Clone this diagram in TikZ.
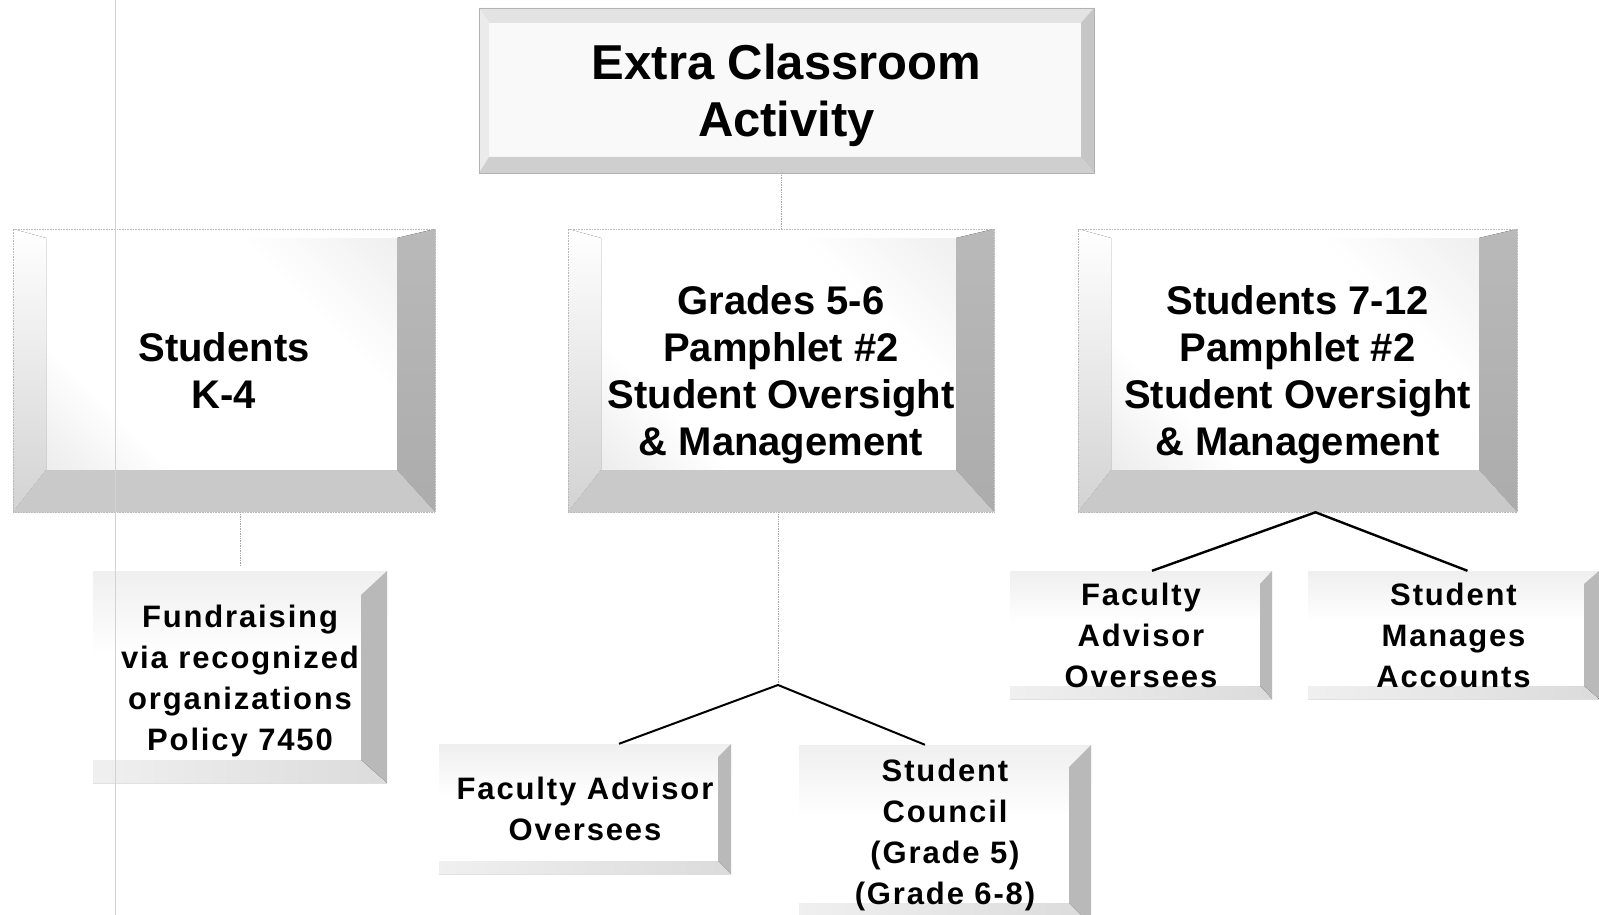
\documentclass[tikz,border=0pt]{standalone}
\usepackage{fontspec}
\setmainfont{Liberation Sans}
\newfontfamily\spacedsf[LetterSpace=6]{Liberation Sans}
\usetikzlibrary{shapes}

% face shadings
\pgfdeclarehorizontalshading{diagface}{100bp}{color(0bp)=(gray!40); color(35bp)=(white); color(65bp)=(white); color(100bp)=(gray!28)}
\pgfdeclareverticalshading{subface}{100bp}{color(0bp)=(white); color(55bp)=(white); color(100bp)=(gray!28)}

% bevel: widths left top right bottom, then fills top left right bottom
\newcommand{\bevelfill}[8]{%
  \coordinate (oNW) at (path picture bounding box.north west);
  \coordinate (oNE) at (path picture bounding box.north east);
  \coordinate (oSE) at (path picture bounding box.south east);
  \coordinate (oSW) at (path picture bounding box.south west);
  \coordinate (iNW) at ([xshift=#1pt,yshift=-#2pt]oNW);
  \coordinate (iNE) at ([xshift=-#3pt,yshift=-#2pt]oNE);
  \coordinate (iSE) at ([xshift=-#3pt,yshift=#4pt]oSE);
  \coordinate (iSW) at ([xshift=#1pt,yshift=#4pt]oSW);
  \fill[#5] (oNW) -- (oNE) -- (iNE) -- (iNW) -- cycle;
  \fill[#6] (oNW) -- (iNW) -- (iSW) -- (oSW) -- cycle;
  \fill[#7] (oNE) -- (oSE) -- (iSE) -- (iNE) -- cycle;
  \fill[#8] (oSW) -- (oSE) -- (iSE) -- (iSW) -- cycle;
}
% extra room above the first line
\newcommand{\toppad}[1]{\rule{0pt}{#1}}

\begin{document}
\begin{tikzpicture}[x=1pt,y=-1pt]
   \tikzset{TopStyle/.style={draw=gray!60, line width=0.8pt, fill=gray!5, inner sep=0pt, align=center,
      font=\bfseries\fontsize{49}{57}\selectfont,
      path picture={\bevelfill{10}{15}{13}{16}{fill=gray!22}{fill=gray!16}{fill=gray!45}{fill=gray!38}}}}
   \tikzset{GradeStyle/.style={draw=gray!55, densely dotted, line width=0.6pt, shade, shading=diagface,
      shading angle=45, inner sep=0pt, align=center, font=\bfseries\fontsize{40}{47}\selectfont,
      path picture={\bevelfill{33}{9}{38}{42}{fill=white}{top color=white,bottom color=gray!35}{top color=gray!55,bottom color=gray!65}{fill=gray!42}}}}
   \tikzset{SubStyle/.style n args={3}{shade, shading=subface, inner sep=0pt, align=center,
      font=\spacedsf\bfseries\fontsize{31}{41}\selectfont,
      path picture={\bevelfill{0}{#1}{#2}{#3}{fill=none}{fill=none}{fill=gray!55}{left color=gray!12,right color=gray!28}}}}
   \tikzset{StemStyle/.style={gray!70, densely dotted, line width=0.7pt}}
   \tikzset{BranchStyle/.style={black, line width=2pt}}
   \path[use as bounding box, fill=white] (0,0) rectangle (1599,915);
   % top
   \node[TopStyle, minimum width=615pt, minimum height=165pt] (eca) at (786.5,90.5) {\toppad{46pt}Extra Classroom\\Activity};
   % grade groups
   \node[GradeStyle, minimum width=422pt, minimum height=283pt] (k4) at (224,370.5) {Students\\K-4};
   \node[GradeStyle, minimum width=426pt, minimum height=283pt] (g56) at (781,370.5) {\toppad{37pt}Grades 5-6\\Pamphlet \#2\\Student Oversight\\\& Management};
   \node[GradeStyle, minimum width=439pt, minimum height=283pt] (s712) at (1297.5,370.5) {\toppad{37pt}Students 7-12\\Pamphlet \#2\\Student Oversight\\\& Management};
   % lower boxes
   \node[SubStyle={24}{26}{23}, minimum width=294pt, minimum height=212pt] (fund) at (240,677) {\toppad{31pt}Fundraising\\via recognized\\organizations\\Policy 7450};
   \node[SubStyle={13}{13}{13}, minimum width=292pt, minimum height=130pt] (fa56) at (585,809) {Faculty Advisor\\Oversees};
   \node[SubStyle={22}{22}{22}, minimum width=292pt, minimum height=180pt] (sc56) at (945,835) {Student\\Council\\(Grade 5)\\(Grade 6-8)};
   \node[SubStyle={13}{12}{13}, minimum width=262pt, minimum height=128pt] (fa712) at (1141,635) {Faculty\\Advisor\\Oversees};
   \node[SubStyle={13}{15}{13}, minimum width=291pt, minimum height=128pt] (sm712) at (1453.5,635) {Student\\Manages\\Accounts};
   % connectors
   \coordinate (fork56) at (778,685);
   \draw[StemStyle] (eca.south -| g56.north) -- (g56.north);
   \draw[StemStyle] (fund.north |- k4.south) -- ([yshift=5pt]fund.north);
   \draw[StemStyle] (fork56 |- g56.south) -- (fork56);
   \draw[BranchStyle] ([xshift=34pt]fa56.north) -- (fork56) -- ([xshift=-20pt]sc56.north);
   \draw[BranchStyle, line width=2.4pt] ([xshift=11pt]fa712.north) -- ([xshift=18pt]s712.south) -- ([xshift=14pt]sm712.north);
   \draw[gray!35, line width=0.6pt] (115,0) -- (115,915);
\end{tikzpicture}
\end{document}
